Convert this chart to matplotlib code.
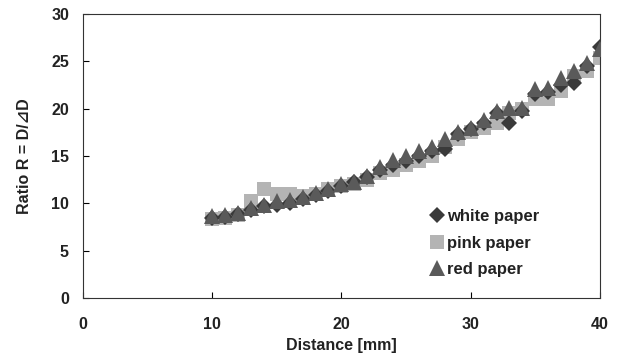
import matplotlib.pyplot as plt

plt.rcParams['font.family'] = ['Liberation Sans', 'DejaVu Sans']

# Distance [mm] and measured ratio R = D/dD for each paper colour
distance = list(range(10, 41))
white_paper = [8.5, 8.6, 8.9, 9.3, 9.7, 9.8, 10.0, 10.5, 10.9, 11.3, 11.8,
               12.2, 12.8, 13.5, 14.0, 14.5, 15.0, 15.5, 15.7, 17.3, 17.8,
               18.5, 19.5, 18.5, 19.8, 21.5, 21.8, 22.5, 22.7, 24.5, 26.5]
pink_paper = [8.3, 8.5, 8.8, 10.2, 11.5, 11.0, 11.0, 10.8, 11.0, 11.5, 11.8,
              12.0, 12.5, 13.2, 13.5, 14.0, 14.5, 15.0, 16.0, 16.8, 17.5,
              18.0, 18.5, 19.5, 20.0, 21.0, 21.0, 21.9, 23.5, 24.0, 25.4]
red_paper = [8.7, 8.8, 9.0, 9.5, 9.8, 10.2, 10.3, 10.7, 11.1, 11.5, 12.0,
             12.3, 12.9, 13.8, 14.6, 15.0, 15.5, 16.0, 16.8, 17.5, 18.0,
             18.8, 19.8, 20.1, 20.1, 22.1, 22.2, 23.2, 24.0, 24.8, 26.3]

x_ticks = [0, 10, 20, 30, 40]
y_ticks = [0, 5, 10, 15, 20, 25, 30]

fig = plt.figure(figsize=(6.23, 3.59), dpi=100)
ax = fig.add_axes([0.133, 0.170, 0.830, 0.791])

ax.plot(distance, pink_paper, linestyle='none', marker='s',
        markersize=9.5, color='#b4b4b4', markeredgewidth=0, label='pink paper', zorder=2)
ax.plot(distance, white_paper, linestyle='none', marker='D',
        markersize=8, color='#3a3a3a', markeredgewidth=0, label='white paper', zorder=3)
ax.plot(distance, red_paper, linestyle='none', marker='^',
        markersize=11, color='#5a5a5a', markeredgewidth=0, label='red paper', zorder=4)

ax.set_xlim(0, 40)
ax.set_ylim(0, 30)
ax.set_xticks(x_ticks)
ax.set_yticks(y_ticks)
ax.tick_params(axis='y', direction='in', length=4, width=0.8, labelsize=11.5, pad=10)
ax.tick_params(axis='x', direction='in', length=4, width=0.8, labelsize=11.5, pad=14)
for lbl in ax.get_xticklabels() + ax.get_yticklabels():
    lbl.set_fontweight('bold')
    lbl.set_color('#222222')
for sp in ax.spines.values():
    sp.set_linewidth(0.8)
    sp.set_color('#333333')

ax.set_xlabel('Distance [mm]', fontsize=11.5, fontweight='bold', color='#222222', labelpad=4)
ax.set_ylabel('Ratio R = D/\u22bfD', fontsize=11.5, fontweight='bold', color='#222222', labelpad=14)

# legend order: white, pink, red
handles, labels = ax.get_legend_handles_labels()
order = [1, 0, 2]
leg = ax.legend([handles[i] for i in order], [labels[i] for i in order],
                loc='lower left', bbox_to_anchor=(0.64, 0.02), frameon=False,
                handletextpad=0.1, handlelength=1.0, labelspacing=0.7,
                prop={'size': 12, 'weight': 'bold'})
for t in leg.get_texts():
    t.set_color('#222222')

fig.savefig('out.png', dpi=100)
